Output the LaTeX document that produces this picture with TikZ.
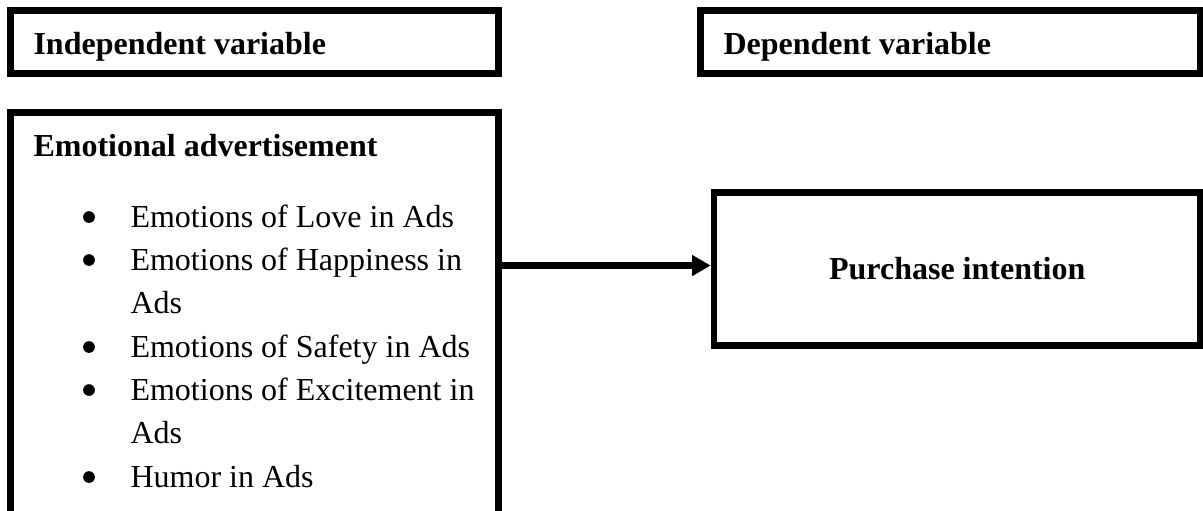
\documentclass[tikz,border=0pt]{standalone}
\usepackage{fontspec}
\setmainfont{Liberation Serif}
\usetikzlibrary{arrows.meta}

\begin{document}
\begin{tikzpicture}[x=0.375pt,y=-0.375pt,
  varbox/.style={draw,rectangle,line width=2.5pt,inner sep=0pt},
  head/.style={anchor=base west,inner sep=0pt,font=\fontsize{12}{14}\selectfont\bfseries},
  item/.style={anchor=base west,inner sep=0pt,font=\fontsize{12}{14}\selectfont},
  dot/.style={circle,fill,inner sep=0pt,minimum size=4.4pt},
  link/.style={-{Triangle[length=7pt,width=7.5pt]},line width=2.5pt}]
  \path[use as bounding box,clip] (0,0) rectangle (1203,510);

  % the boxes
  \node[varbox,minimum width=183pt,minimum height=23.6pt] (indep) at (254.5,42) {};
  \node[varbox,minimum width=187.5pt,minimum height=23.6pt] (dep) at (950.5,42) {};
  \node[varbox,minimum width=183pt,minimum height=156.6pt] (emo) at (254.5,321.25) {};
  \node[varbox,minimum width=182.4pt,minimum height=57.4pt,
        font=\fontsize{12}{14}\selectfont\bfseries] (purchase) at (957.25,269) {Purchase intention};

  % headings
  \node[head] (indeplbl) at (33,54) {Independent variable};
  \node[head] (deplbl) at (723,54) {Dependent variable};
  \node[head] (emolbl) at (33,156) {Emotional advertisement};

  % list
  \node[item] (love) at (130,227) {Emotions of Love in Ads};
  \node[item] (happy) at (130,270) {Emotions of Happiness in};
  \node[item] (happyb) at (130,313) {Ads};
  \node[item] (safe) at (130,357) {Emotions of Safety in Ads};
  \node[item] (excite) at (130,400) {Emotions of Excitement in};
  \node[item] (exciteb) at (130,443) {Ads};
  \node[item] (humor) at (130,487) {Humor in Ads};
  \foreach \y/\n in {217/1,260/2,347/3,390/4,477/5}
    \node[dot] (bul\n) at (89,\y) {};

  \coordinate (arrowy) at (600,265.5);
  \draw[link] (emo.east |- arrowy) -- (purchase.west |- arrowy);
\end{tikzpicture}
\end{document}
